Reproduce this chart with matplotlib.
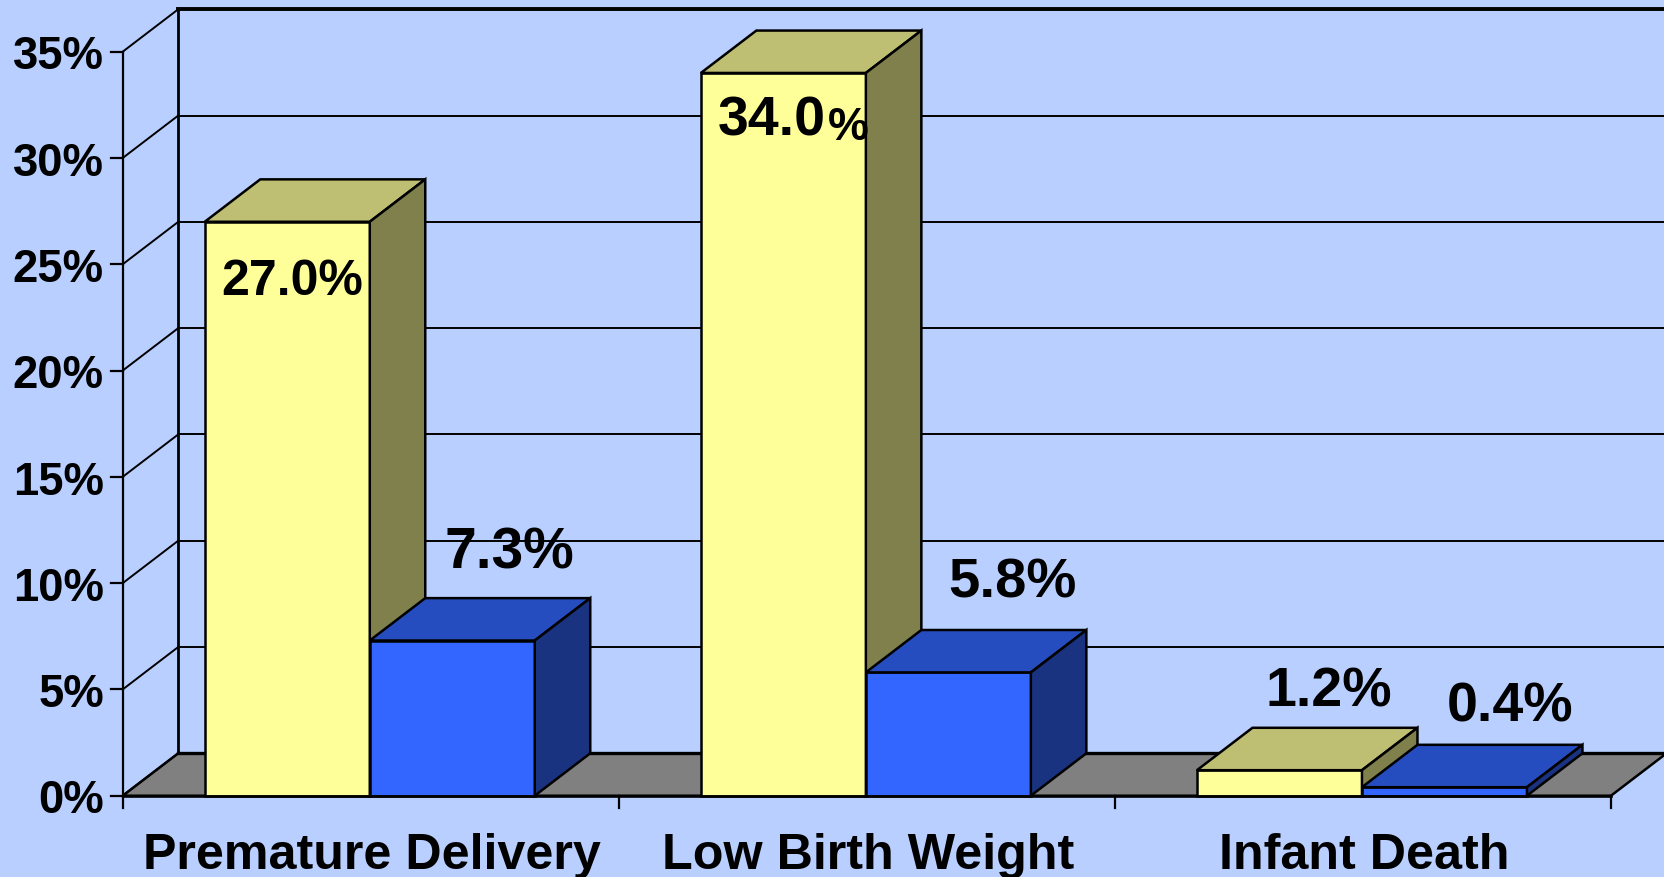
import matplotlib
matplotlib.use('Agg')
import matplotlib.pyplot as plt
from matplotlib.patches import Polygon

categories = ['Premature Delivery', 'Low Birth Weight', 'Infant Death']
yellow_vals = [27.0, 34.0, 1.2]
blue_vals = [7.3, 5.8, 0.4]
yticks = [0, 5, 10, 15, 20, 25, 30, 35]

W, H = 1664, 878
BG = '#b8cfff'
x0_px, x3_px = 122.7, 1611.0
y0_px, y35_px = 796.7, 52.7
px_x = (x3_px - x0_px) / 3
px_y = (y0_px - y35_px) / 35
# depth of the fake 3d projection, in data units
dx = 55.5 / px_x
dy = 42.4 / px_y
bar_w = 165.0 / px_x
gap = (1 - 2 * bar_w) / 2 - 0.002

plt.rcParams['font.family'] = ['Liberation Sans', 'DejaVu Sans']
plt.rcParams['font.weight'] = 'bold'

fig = plt.figure(figsize=(W / 100, H / 100), dpi=100, facecolor=BG)
ax = fig.add_axes([x0_px / W, 1 - y0_px / H, (x3_px - x0_px) / W, (y0_px - y35_px) / H])
ax.set_xlim(0, 3)
ax.set_ylim(0, 35)
ax.axis('off')


def line(xs, ys, lw=1.5, z=2):
    ax.plot(xs, ys, color='black', lw=lw, clip_on=False, solid_capstyle='projecting', zorder=z)


def poly(pts, color, z):
    ax.add_patch(Polygon(pts, closed=True, facecolor=color, edgecolor='black', lw=1.8,
                         joinstyle='miter', clip_on=False, zorder=z))


def box(x, w, v, front, top, side, z):
    poly([(x, 0), (x + w, 0), (x + w, v), (x, v)], front, z)
    poly([(x, v), (x + w, v), (x + w + dx, v + dy), (x + dx, v + dy)], top, z)
    poly([(x + w, 0), (x + w + dx, dy), (x + w + dx, v + dy), (x + w, v)], side, z)


def label(text, x, v, off_px, size):
    # offset is given in pixels from the front top left corner of the bar
    ax.annotate(text, (x, v), xytext=(off_px[0] * 0.72, off_px[1] * 0.72),
                textcoords='offset points', ha='left', va='baseline', fontsize=size,
                annotation_clip=False, zorder=20)


# floor
poly([(0, 0), (3, 0), (3 + dx, dy), (dx, dy)], '#808080', 1)
line([dx, 3 + dx], [dy, dy], lw=2.4, z=1.5)

# walls and gridlines
for v in yticks[1:]:
    lw = 2.8 if v == 35 else 1.4
    line([dx, 3 + dx], [v + dy, v + dy], lw=lw)
    line([0, dx], [v, v + dy], lw=1.4)
line([dx, dx], [dy, 35 + dy], lw=2.0)
line([0, 0], [0, 35], lw=1.6)
line([0, dx], [0, dy], lw=1.4)

# axis ticks and labels
for v in yticks:
    ax.plot([0, -12 / px_x], [v, v], color='black', lw=1.6, clip_on=False, zorder=2)
    ax.annotate(f'{v}%', (0, v), xytext=(-13.5, -12), textcoords='offset points', ha='right',
                va='baseline', fontsize=32.8, annotation_clip=False)
for i in range(4):
    ax.plot([i, i], [0, -12 / px_y], color='black', lw=1.6, clip_on=False, zorder=2)
for i, c in enumerate(categories):
    ax.annotate(c, (i + 0.5, 0), xytext=(1, -52.2), textcoords='offset points', ha='center',
                va='baseline', fontsize=36.2, annotation_clip=False)

# bars, back to front from left to right
for i in range(3):
    x = i + gap
    box(x, bar_w, yellow_vals[i], '#ffff99', '#bfbf73', '#80804d', 3 + 2 * i)
    box(x + bar_w, bar_w, blue_vals[i], '#3366ff', '#264dbf', '#1a3380', 4 + 2 * i)
line([0, 3], [0, 0], lw=1.9, z=12)

# value labels
label('27.0%', 0 + gap, yellow_vals[0], (16, -72), 36)
label('34.0', 1 + gap, yellow_vals[1], (17, -62), 40)
label('%', 1 + gap, yellow_vals[1], (127, -66), 33)
label('1.2%', 2 + gap, yellow_vals[2], (69, 65), 40)
label('7.3%', 0 + gap + bar_w, blue_vals[0], (75, 73.5), 41)
label('5.8%', 1 + gap + bar_w, blue_vals[1], (82, 76), 40.5)
label('0.4%', 2 + gap + bar_w, blue_vals[2], (85, 67), 40)

fig.savefig('out.png', dpi=100, facecolor=BG)
